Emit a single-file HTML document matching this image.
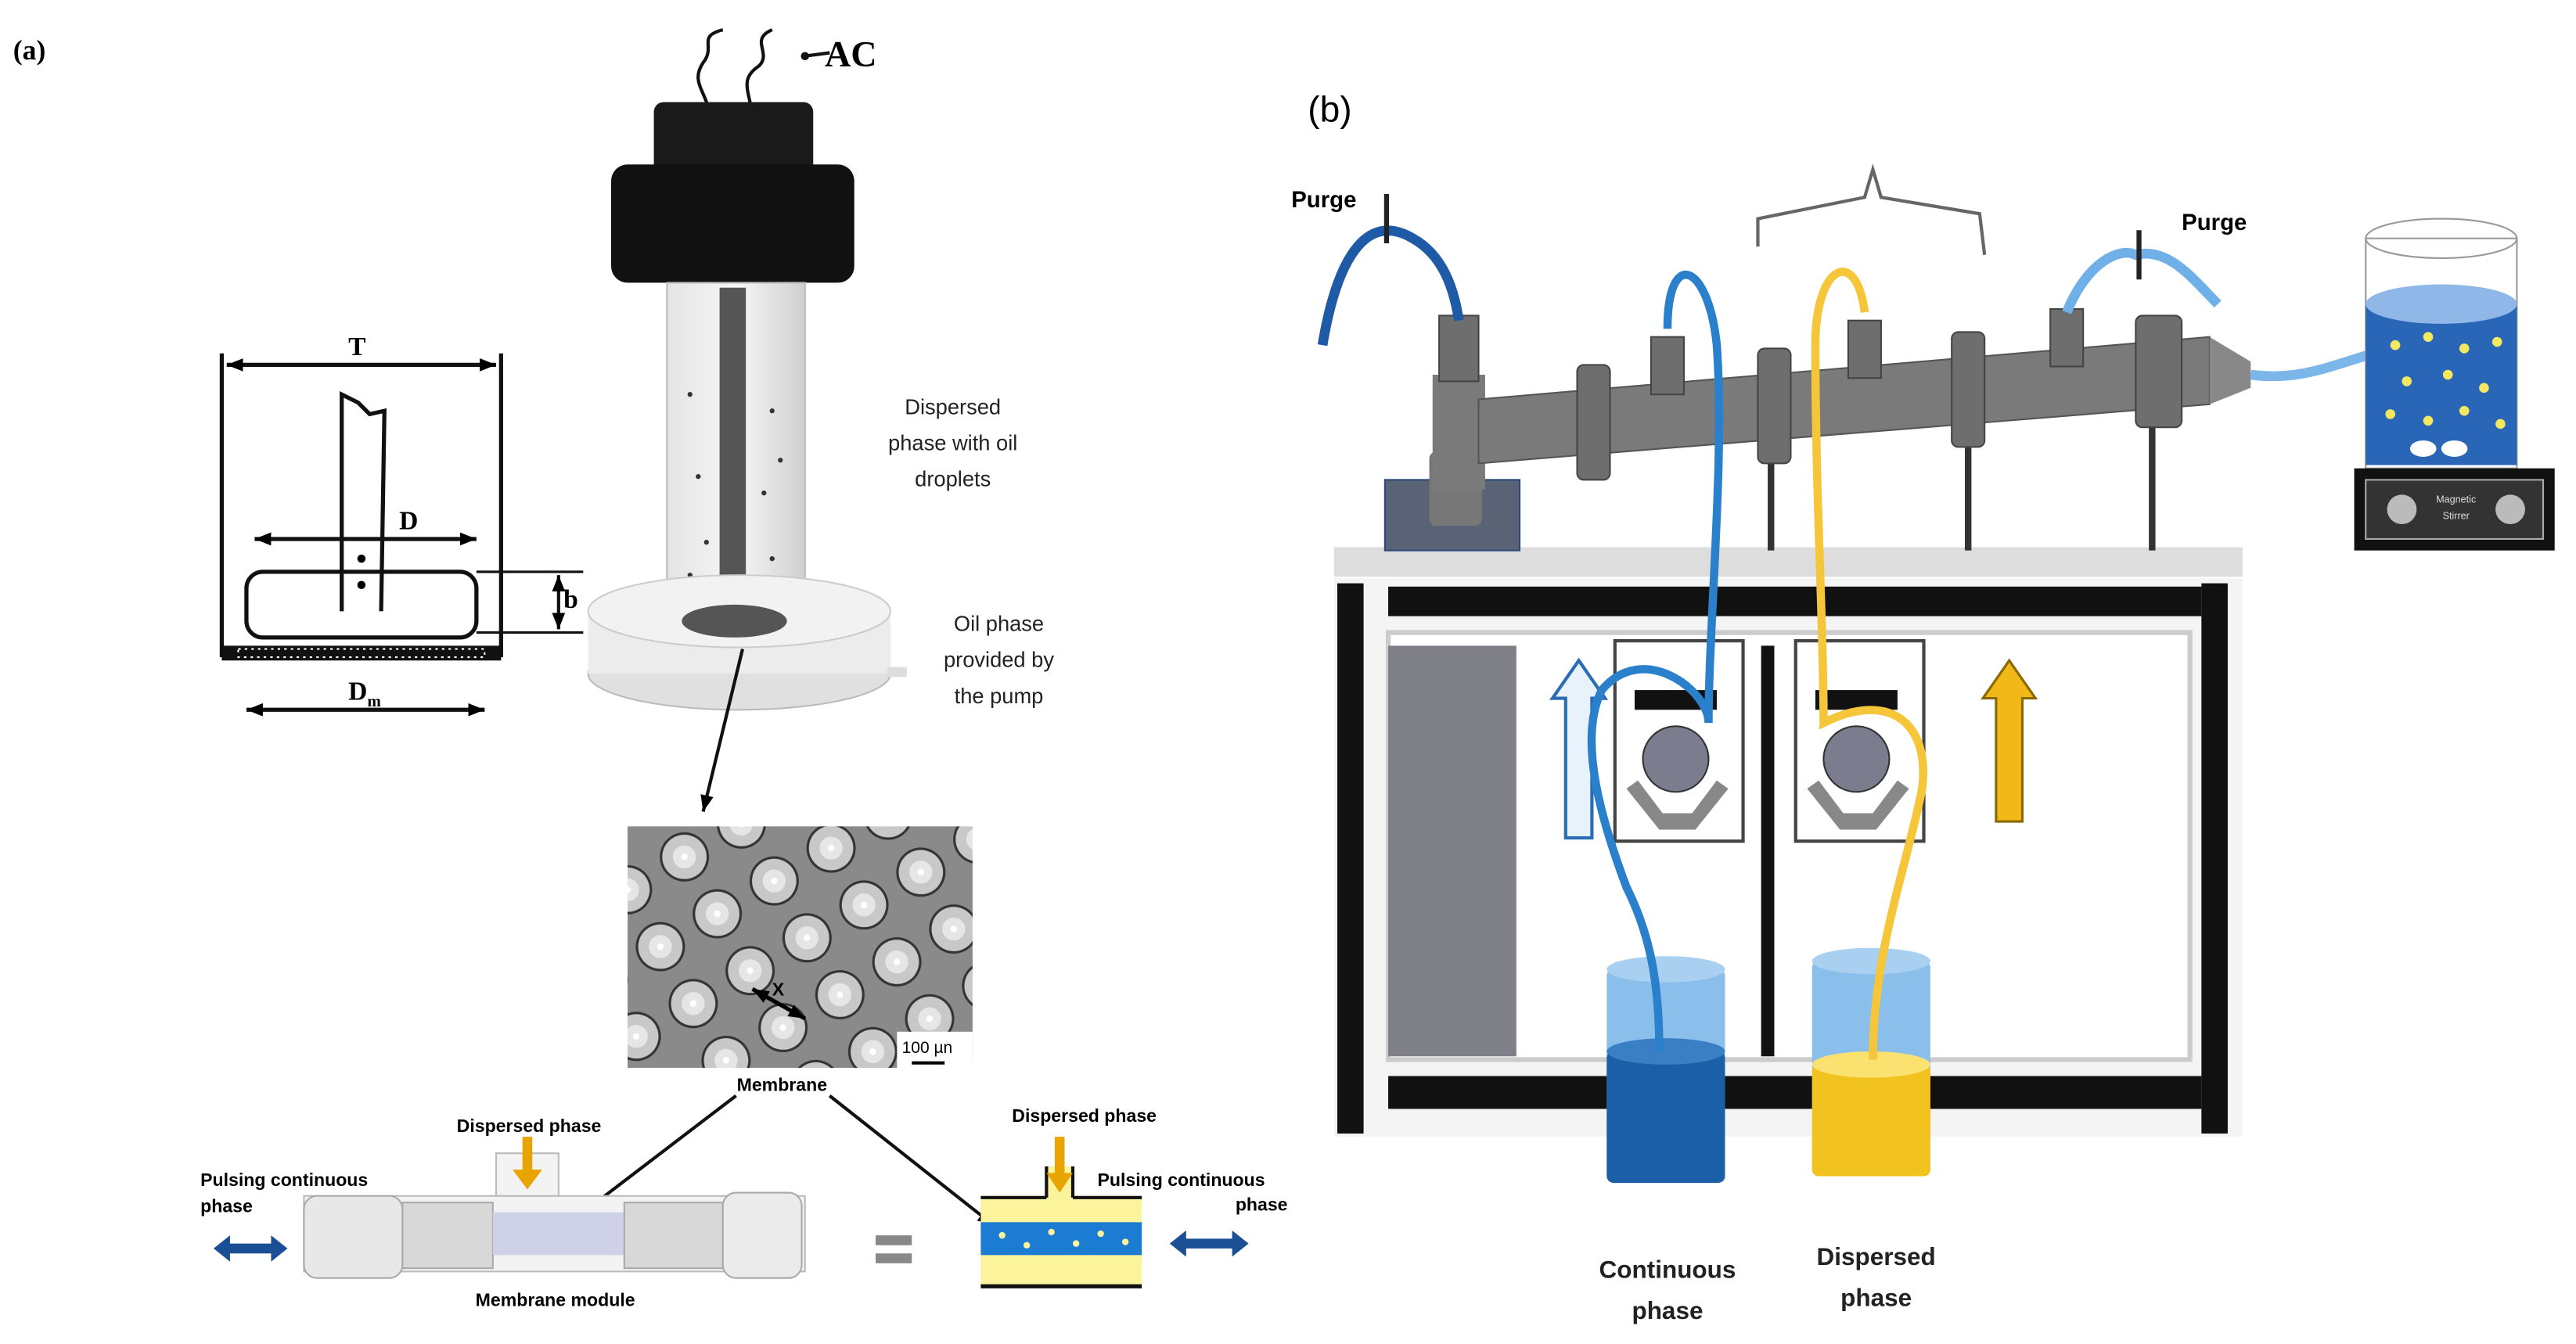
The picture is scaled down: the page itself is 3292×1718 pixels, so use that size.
<!DOCTYPE html>
<html><head><meta charset="utf-8"><style>
html,body{margin:0;padding:0;background:#fff}
svg{display:block}
text{font-family:"Liberation Sans",sans-serif}
.serif{font-family:"Liberation Serif",serif;font-weight:bold}
</style></head><body>
<svg width="3292" height="1718" viewBox="0 0 1568 818" xmlns="http://www.w3.org/2000/svg">
<defs>
<pattern id="pores" width="40" height="40" patternUnits="userSpaceOnUse" patternTransform="rotate(-30)">
<rect width="40" height="40" fill="#8a8a8a"/>
<circle cx="20" cy="20" r="15" fill="#333"/>
<circle cx="20" cy="20" r="13.5" fill="#c8c8c8"/>
<circle cx="20" cy="20" r="7" fill="#e6e6e6"/>
<circle cx="20" cy="20" r="2" fill="#fff"/>
</pattern>
<linearGradient id="glass" x1="0" x2="1"><stop offset="0" stop-color="#e4e4e4"/><stop offset=".5" stop-color="#f6f6f6"/><stop offset="1" stop-color="#d0d0d0"/></linearGradient>
<marker id="ah" markerUnits="userSpaceOnUse" markerWidth="10" markerHeight="8" refX="10" refY="4" orient="auto-start-reverse"><path d="M0,0 L10,4 L0,8 z" fill="#000"/></marker>
</defs>

<!-- (a) -->
<text x="8" y="36" class="serif" font-size="17">(a)</text>
<path d="M432,70 C430,55 420,50 428,38 C436,28 424,22 440,18 M458,70 C456,55 450,48 462,40 C470,32 456,24 470,18 M490,34 L505,32" stroke="#111" stroke-width="2" fill="none"/>
<circle cx="490" cy="34" r="2.5" fill="#111"/>
<text x="502" y="40" class="serif" font-size="22">AC</text>
<rect x="398" y="62" width="97" height="50" rx="6" fill="#1a1a1a"/>
<rect x="372" y="100" width="148" height="72" rx="10" fill="#111"/>
<rect x="406" y="172" width="84" height="205" fill="url(#glass)" stroke="#bbb"/>
<rect x="438" y="175" width="16" height="200" fill="#555"/>
<g fill="#333">
<circle cx="420" cy="240" r="1.5"/><circle cx="470" cy="250" r="1.5"/><circle cx="425" cy="290" r="1.5"/><circle cx="465" cy="300" r="1.5"/><circle cx="430" cy="330" r="1.5"/><circle cx="420" cy="350" r="1.5"/><circle cx="470" cy="340" r="1.5"/><circle cx="460" cy="360" r="1.5"/><circle cx="425" cy="365" r="1.5"/><circle cx="475" cy="280" r="1.5"/>
</g>
<ellipse cx="450" cy="410" rx="92" ry="22" fill="#e0e0e0" stroke="#bbb"/>
<rect x="358" y="372" width="184" height="38" fill="#ececec"/>
<ellipse cx="450" cy="372" rx="92" ry="22" fill="#f2f2f2" stroke="#ccc"/>
<ellipse cx="447" cy="378" rx="32" ry="10" fill="#555"/>
<rect x="540" y="406" width="12" height="6" fill="#ddd"/>
<text font-size="13" text-anchor="middle" fill="#222"><tspan x="580" y="252">Dispersed</tspan><tspan x="580" y="274">phase with oil</tspan><tspan x="580" y="296">droplets</tspan></text>
<text font-size="13" text-anchor="middle" fill="#222"><tspan x="608" y="384">Oil phase</tspan><tspan x="608" y="406">provided by</tspan><tspan x="608" y="428">the pump</tspan></text>
<g stroke="#111" stroke-width="2.5" fill="none">
<line x1="135" y1="215" x2="135" y2="400"/><line x1="305" y1="215" x2="305" y2="400"/>
<line x1="138" y1="222" x2="302" y2="222" marker-end="url(#ah)" marker-start="url(#ah)"/>
<path d="M208,372 L208,240 L218,245 L225,252 L234,250 L232,372"/>
<rect x="150" y="348" width="140" height="40" rx="10"/>
<line x1="155" y1="328" x2="290" y2="328" marker-end="url(#ah)" marker-start="url(#ah)"/>
<line x1="290" y1="348" x2="355" y2="348" stroke-width="1.5"/><line x1="290" y1="385" x2="355" y2="385" stroke-width="1.5"/>
<line x1="340" y1="350" x2="340" y2="383" stroke-width="2" marker-end="url(#ah)" marker-start="url(#ah)"/>
<line x1="150" y1="432" x2="295" y2="432" marker-end="url(#ah)" marker-start="url(#ah)"/>
</g>
<circle cx="220" cy="340" r="2.5"/><circle cx="220" cy="356" r="2.5"/>
<rect x="135" y="393" width="170" height="9" fill="#111"/>
<rect x="145" y="395" width="150" height="5" fill="none" stroke="#fff" stroke-dasharray="1.5 2.5"/>
<text x="212" y="216" class="serif" font-size="16">T</text>
<text x="243" y="322" class="serif" font-size="16">D</text>
<text x="343" y="370" class="serif" font-size="16">b</text>
<text x="212" y="426" class="serif" font-size="16">D<tspan font-size="10" dy="4">m</tspan></text>
<line x1="452" y1="395" x2="428" y2="494" stroke="#111" stroke-width="2" marker-end="url(#ah)"/>
<rect x="382" y="503" width="210" height="147" fill="url(#pores)"/>
<rect x="546" y="628" width="46" height="22" fill="#fff"/>
<text x="549" y="641" font-size="10">100 µn</text>
<line x1="555" y1="647" x2="575" y2="647" stroke="#000" stroke-width="2"/>
<line x1="458" y1="602" x2="490" y2="620" stroke="#000" stroke-width="2.5" marker-end="url(#ah)" marker-start="url(#ah)"/>
<text x="470" y="606" font-size="11" font-weight="bold">X</text>
<text x="476" y="664" font-size="11" font-weight="bold" text-anchor="middle">Membrane</text>
<line x1="448" y1="667" x2="355" y2="738" stroke="#111" stroke-width="2"/>
<line x1="505" y1="667" x2="605" y2="746" stroke="#111" stroke-width="2" marker-end="url(#ah)"/>
<text x="322" y="689" font-size="11" font-weight="bold" text-anchor="middle">Dispersed phase</text>
<text font-size="11" font-weight="bold"><tspan x="122" y="722">Pulsing continuous</tspan><tspan x="122" y="738">phase</tspan></text>
<rect x="185" y="728" width="305" height="46" fill="#f3f3f3" stroke="#bbb"/>
<rect x="185" y="728" width="60" height="50" rx="8" fill="#e8e8e8" stroke="#aaa"/>
<rect x="245" y="732" width="55" height="40" fill="#d8d8d8" stroke="#aaa"/>
<rect x="300" y="738" width="80" height="26" fill="#cfd2e6"/>
<rect x="380" y="732" width="60" height="40" fill="#d8d8d8" stroke="#aaa"/>
<rect x="440" y="726" width="48" height="52" rx="8" fill="#ebebeb" stroke="#aaa"/>
<rect x="302" y="702" width="38" height="26" fill="#f3f3f3" stroke="#bbb"/>
<path d="M318,692 L318,712 L312,712 L321,724 L330,712 L324,712 L324,692 z" fill="#e8a400"/>
<path d="M130,760 L140,752 L140,757 L165,757 L165,752 L175,760 L165,768 L165,763 L140,763 L140,768 z" fill="#1b4f95"/>
<text x="338" y="795" font-size="11" font-weight="bold" text-anchor="middle">Membrane module</text>
<rect x="533" y="752" width="22" height="6" fill="#888"/><rect x="533" y="763" width="22" height="6" fill="#888"/>
<text x="660" y="683" font-size="11" font-weight="bold" text-anchor="middle">Dispersed phase</text>
<text font-size="11" font-weight="bold"><tspan x="668" y="722">Pulsing continuous</tspan><tspan x="752" y="737">phase</tspan></text>
<rect x="597" y="728" width="98" height="55" fill="#fbf49c"/>
<rect x="637" y="710" width="16" height="20" fill="#fbf49c"/>
<rect x="597" y="744" width="98" height="20" fill="#1c7bd3"/>
<g fill="#fff3a0"><circle cx="610" cy="752" r="2"/><circle cx="625" cy="758" r="2"/><circle cx="640" cy="750" r="2"/><circle cx="655" cy="757" r="2"/><circle cx="670" cy="751" r="2"/><circle cx="685" cy="756" r="2"/></g>
<line x1="597" y1="729" x2="637" y2="729" stroke="#111" stroke-width="2"/><line x1="653" y1="729" x2="695" y2="729" stroke="#111" stroke-width="2"/>
<line x1="637" y1="710" x2="637" y2="729" stroke="#111" stroke-width="2"/><line x1="653" y1="710" x2="653" y2="729" stroke="#111" stroke-width="2"/>
<line x1="597" y1="783" x2="695" y2="783" stroke="#111" stroke-width="2.5"/>
<path d="M642,692 L642,714 L637,714 L645,726 L653,714 L648,714 L648,692 z" fill="#e8a400"/>
<path d="M712,757 L722,749 L722,754 L750,754 L750,749 L760,757 L750,765 L750,760 L722,760 L722,765 z" fill="#1b4f95"/>
<rect x="786" y="0" width="4" height="818" fill="#fff"/>

<!-- (b) -->
<text x="796" y="74" font-family="Liberation Serif" font-size="22">(b)</text>
<text x="786" y="126" font-size="14" font-weight="bold">Purge</text>
<text x="1328" y="140" font-size="14" font-weight="bold">Purge</text>
<path d="M1070,150 L1070,133 L1135,120 L1140,103 L1145,120 L1205,130 L1208,155" stroke="#666" stroke-width="2" fill="none"/>
<rect x="812" y="333" width="553" height="18" fill="#ddd"/>
<rect x="812" y="352" width="553" height="340" fill="#f4f4f4"/>
<rect x="814" y="355" width="16" height="335" fill="#111"/>
<rect x="1340" y="355" width="16" height="335" fill="#111"/>
<rect x="845" y="357" width="495" height="18" fill="#111"/>
<rect x="845" y="655" width="495" height="20" fill="#111"/>
<rect x="845" y="385" width="488" height="260" fill="#fff" stroke="#ccc" stroke-width="3"/>
<rect x="845" y="393" width="78" height="250" fill="#7f8087"/>
<rect x="1072" y="393" width="8" height="250" fill="#111"/>
<g>
<rect x="983" y="390" width="78" height="122" fill="#fff" stroke="#444" stroke-width="2"/>
<rect x="995" y="420" width="50" height="12" fill="#111"/>
<circle cx="1020" cy="462" r="20" fill="#7b7d8f" stroke="#333"/>
<path d="M990,480 L1010,505 L1032,505 L1052,480 L1045,475 L1030,495 L1012,495 L997,475 z" fill="#888"/>
<rect x="1093" y="390" width="78" height="122" fill="#fff" stroke="#444" stroke-width="2"/>
<rect x="1105" y="420" width="50" height="12" fill="#111"/>
<circle cx="1130" cy="462" r="20" fill="#7b7d8f" stroke="#333"/>
<path d="M1100,480 L1120,505 L1142,505 L1162,480 L1155,475 L1140,495 L1122,495 L1107,475 z" fill="#888"/>
</g>
<path d="M953,510 L953,425 L945,425 L961,402 L977,425 L969,425 L969,510 z" fill="#e8f2fb" stroke="#2a6db5" stroke-width="2"/>
<path d="M1215,500 L1215,425 L1207,425 L1223,402 L1239,425 L1231,425 L1231,500 z" fill="#f2b818" stroke="#8a6a00" stroke-width="1.5"/>
<rect x="978" y="590" width="72" height="128" rx="4" fill="#8bbfeb"/>
<rect x="978" y="640" width="72" height="80" rx="4" fill="#1c5fa8"/>
<ellipse cx="1014" cy="640" rx="36" ry="8" fill="#3a7fc4"/>
<ellipse cx="1014" cy="590" rx="36" ry="8" fill="#a9d0f0"/>
<rect x="1103" y="585" width="72" height="130" rx="4" fill="#8bbfeb"/>
<rect x="1103" y="648" width="72" height="68" rx="4" fill="#f2c21e"/>
<ellipse cx="1139" cy="648" rx="36" ry="8" fill="#fbe270"/>
<ellipse cx="1139" cy="585" rx="36" ry="8" fill="#a9d0f0"/>
<text font-size="15" font-weight="bold" text-anchor="middle" fill="#222"><tspan x="1015" y="778">Continuous</tspan><tspan x="1015" y="803">phase</tspan></text>
<text font-size="15" font-weight="bold" text-anchor="middle" fill="#222"><tspan x="1142" y="770">Dispersed</tspan><tspan x="1142" y="795">phase</tspan></text>
<g stroke="#333" stroke-width="4"><line x1="1078" y1="260" x2="1078" y2="335"/><line x1="1198" y1="250" x2="1198" y2="335"/><line x1="1310" y1="240" x2="1310" y2="335"/></g>
<rect x="843" y="292" width="82" height="43" fill="#5a6275" stroke="#2a4b7a"/>
<rect x="870" y="275" width="32" height="45" rx="4" fill="#777"/>
<rect x="872" y="228" width="32" height="70" fill="#7a7a7a"/>
<polygon points="900,243 1345,205 1345,246 900,282" fill="#7a7a7a" stroke="#555"/>
<polygon points="1345,205 1370,220 1370,236 1345,246" fill="#888"/>
<g fill="#6e6e6e" stroke="#444">
<rect x="960" y="222" width="20" height="70" rx="4"/><rect x="1070" y="212" width="20" height="70" rx="4"/><rect x="1188" y="202" width="20" height="70" rx="4"/><rect x="1300" y="192" width="28" height="68" rx="4"/>
<rect x="1005" y="205" width="20" height="35"/><rect x="1125" y="195" width="20" height="35"/><rect x="1248" y="188" width="20" height="35"/>
<rect x="876" y="192" width="24" height="40"/>
</g>
<path d="M805,210 C815,150 835,130 860,145 C878,155 885,175 888,195" stroke="#1f5aa6" stroke-width="6" fill="none"/>
<line x1="844" y1="118" x2="844" y2="148" stroke="#222" stroke-width="3"/>
<path d="M1015,200 C1015,150 1040,160 1045,210 C1050,280 1040,380 1040,440 C1040,420 1000,390 975,420 C960,450 975,500 990,540 C1005,570 1010,600 1010,640" stroke="#2b80cc" stroke-width="5" fill="none"/>
<path d="M1135,190 C1130,150 1105,160 1105,210 C1105,300 1110,380 1110,440 C1150,420 1175,440 1170,480 C1160,530 1140,580 1140,645" stroke="#f5c53a" stroke-width="5" fill="none"/>
<path d="M1258,190 C1270,160 1290,150 1300,155 C1320,150 1335,170 1350,185" stroke="#6fb0e8" stroke-width="6" fill="none"/>
<line x1="1302" y1="140" x2="1302" y2="170" stroke="#222" stroke-width="3"/>
<path d="M1370,228 C1400,232 1420,222 1445,215" stroke="#7ab6ea" stroke-width="6" fill="none"/>
<rect x="1440" y="145" width="92" height="140" fill="none" stroke="#999"/>
<ellipse cx="1486" cy="145" rx="46" ry="12" fill="none" stroke="#999"/>
<rect x="1440" y="185" width="92" height="98" fill="#2a66b8"/>
<ellipse cx="1486" cy="185" rx="46" ry="12" fill="#8fb8e8"/>
<g fill="#f5e860">
<circle cx="1458" cy="210" r="3"/><circle cx="1478" cy="205" r="3"/><circle cx="1500" cy="212" r="3"/><circle cx="1520" cy="208" r="3"/><circle cx="1465" cy="232" r="3"/><circle cx="1490" cy="228" r="3"/><circle cx="1512" cy="236" r="3"/><circle cx="1455" cy="252" r="3"/><circle cx="1478" cy="256" r="3"/><circle cx="1500" cy="250" r="3"/><circle cx="1522" cy="258" r="3"/>
</g>
<ellipse cx="1475" cy="273" rx="8" ry="5" fill="#fff"/><ellipse cx="1494" cy="273" rx="8" ry="5" fill="#fff"/>
<rect x="1433" y="285" width="122" height="50" fill="#111"/>
<rect x="1440" y="292" width="108" height="36" fill="#333" stroke="#aaa"/>
<circle cx="1462" cy="310" r="9" fill="#bbb"/><circle cx="1528" cy="310" r="9" fill="#bbb"/>
<text x="1495" y="306" font-size="6" fill="#ddd" text-anchor="middle">Magnetic</text>
<text x="1495" y="316" font-size="6" fill="#ddd" text-anchor="middle">Stirrer</text>
</svg>
</body></html>
